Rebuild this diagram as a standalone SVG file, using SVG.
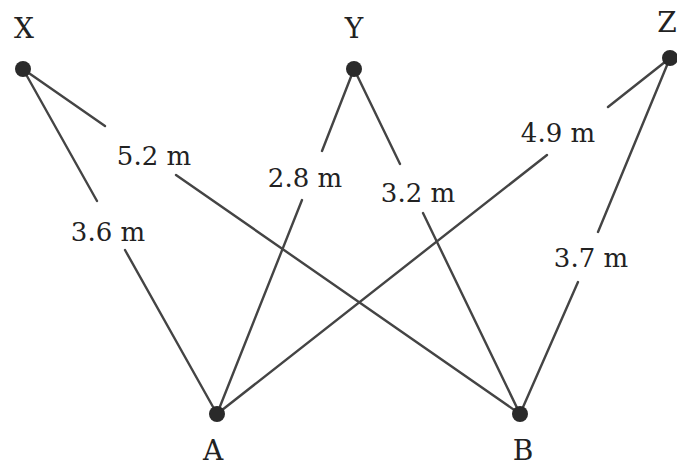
<svg xmlns="http://www.w3.org/2000/svg" width="677" height="468" viewBox="0 0 677 468">
<style>
.e{stroke:#444;stroke-width:2.4;stroke-linecap:round;fill:none}
.n{fill:#2a2a2a}
.t{font-family:"DejaVu Serif","Liberation Serif",serif;font-size:26px;fill:#222;text-anchor:middle}
.v{font-family:"DejaVu Serif","Liberation Serif",serif;font-size:28px;fill:#222;text-anchor:middle}
</style>
<rect width="677" height="468" fill="#fff"/>
<g id="connectors">
<path class="e" d="M23,69 L97,201 M125,250 L217,414"/>
<path class="e" d="M23,69 L105,126 M176,175 L520,414"/>
<path class="e" d="M354,69 L322,151 M302,200 L217,414"/>
<path class="e" d="M354,69 L400,164 M423,213 L520,414"/>
<path class="e" d="M670,58 L608,107 M547,155 L217,414"/>
<path class="e" d="M670,58 L598,232 M578,282 L520,414"/>
<text class="t" x="108" y="241">3.6 m</text>
<text class="t" x="154" y="165">5.2 m</text>
<text class="t" x="305" y="187">2.8 m</text>
<text class="t" x="418" y="202">3.2 m</text>
<text class="t" x="558" y="142">4.9 m</text>
<text class="t" x="591" y="267">3.7 m</text>
</g>
<g id="X"><circle class="n" cx="23" cy="69" r="8"/><text class="v" x="24" y="38">X</text></g>
<g id="Y"><circle class="n" cx="354" cy="69" r="8"/><text class="v" x="354" y="38">Y</text></g>
<g id="Z"><circle class="n" cx="670" cy="58" r="8"/><text class="v" x="667" y="32">Z</text></g>
<g id="A"><circle class="n" cx="217" cy="414" r="8"/><text class="v" x="213" y="460">A</text></g>
<g id="B"><circle class="n" cx="520" cy="414" r="8"/><text class="v" x="523" y="460">B</text></g>
</svg>
